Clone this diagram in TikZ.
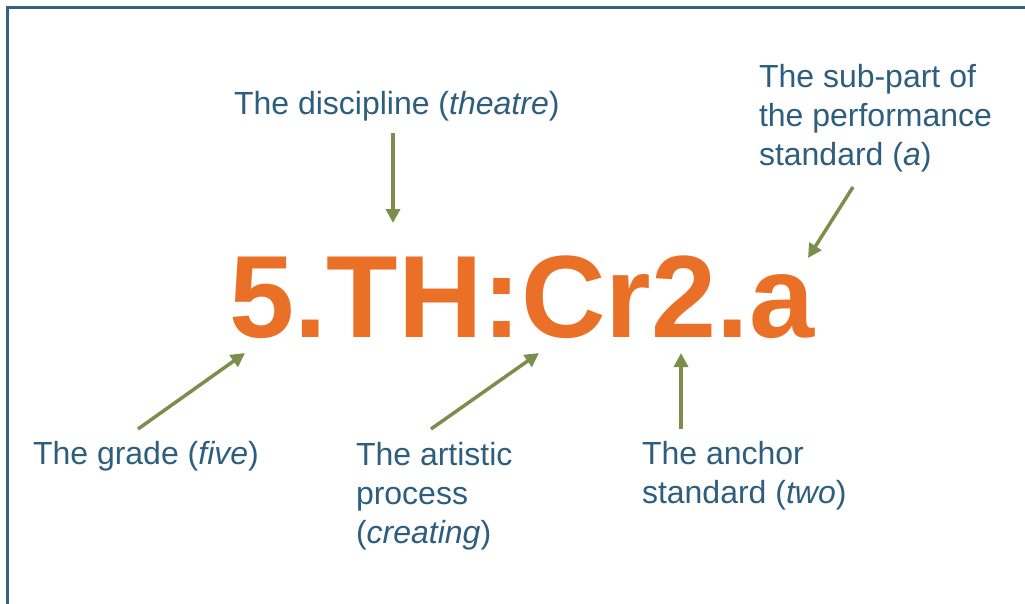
\documentclass[tikz,border=0pt]{standalone}
\usepackage{fontspec}
\setmainfont{Liberation Sans}
\usetikzlibrary{arrows.meta}
\definecolor{framec}{RGB}{52,98,130}
\definecolor{labelc}{RGB}{46,94,126}
\definecolor{codec}{RGB}{233,112,38}
\definecolor{arrowc}{RGB}{124,142,78}
\begin{document}
\begin{tikzpicture}[x=1pt,y=-1pt,
    every node/.style={inner sep=0pt,outer sep=0pt},
    lbl/.style={anchor=base west,align=left,text=labelc,
      font=\fontsize{32}{39}\selectfont},
    pointer/.style={-{Triangle[length=14pt,width=14pt]},arrowc,line width=3.5pt}]
    \useasboundingbox (0,0) rectangle (1025,603);
    \draw[framec,line width=2.7pt] (7.3,7.3) rectangle (1040,620);
    % the code
    \node[anchor=base west,text=codec,font=\fontsize{117}{117}\selectfont\bfseries]
      (code) at (229,337) {5.TH:Cr2.a};
    % labels (base = last line)
    \node[lbl] (discipline) at (234,114) {The discipline (\textit{theatre})};
    \node[lbl] (subpart) at (759,165) {The sub-part of\\the performance\\standard (\textit{a})};
    \node[lbl] (grade) at (33,464) {The grade (\textit{five})};
    \node[lbl] (process) at (356,543) {The artistic\\process\\(\textit{creating})};
    \node[lbl] (anchor) at (642,503) {The anchor\\standard (\textit{two})};
    % arrow ends
    \coordinate (discipline-s) at (393,133);
    \coordinate (discipline-t) at (393,223);
    \coordinate (subpart-s) at (853,187);
    \coordinate (subpart-t) at (808,258);
    \coordinate (grade-s) at (138,429);
    \coordinate (grade-t) at (245,353);
    \coordinate (process-s) at (431,429);
    \coordinate (process-t) at (539,353);
    \coordinate (anchor-s) at (681,429);
    \coordinate (anchor-t) at (681,353);
    \foreach \n in {discipline,subpart,grade,process,anchor}
      \draw[pointer] (\n-s) -- (\n-t);
\end{tikzpicture}
\end{document}
